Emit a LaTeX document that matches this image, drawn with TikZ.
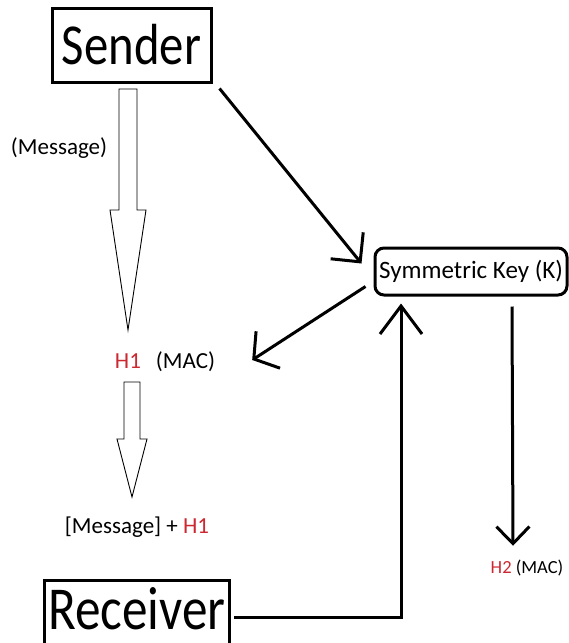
\documentclass[tikz,border=0pt]{standalone}
\usepackage{fontspec}
\setmainfont{Carlito}
\usetikzlibrary{arrows.meta}

\definecolor{hred}{RGB}{204,40,50}
\newcommand{\narrowtext}[1]{\scalebox{0.84}[1]{#1}}

\tikzset{
	party/.style = {draw, line width = 3pt, inner sep = 0pt},
	partyline/.style = {line width = 3pt},
	keybox/.style = {draw, line width = 3pt, rounded corners = 9pt, inner sep = 0pt,
		minimum width = 192pt, minimum height = 47pt, font = \fontsize{25}{25}\selectfont},
	lbl/.style = {inner sep = 0pt, font = \fontsize{23}{23}\selectfont},
	conn/.style = {line width = 3pt},
	hollow/.style = {draw, line width = 0.9pt, fill = white}
}

\begin{document}
\begin{tikzpicture}[x = 1pt, y = -1pt]
	 \useasboundingbox (0, 0) rectangle (569, 643);
	 \clip (0, 0) rectangle (569, 643);
	 
	 % the two parties
	 \node[party, minimum width = 159pt, minimum height = 74pt, font = \fontsize{58}{58}\selectfont] (sender) at (131.5, 45) {\narrowtext{Sender}};
	 \node[inner sep = 0pt, font = \fontsize{61}{61}\selectfont] (receiver) at (137, 609) {\narrowtext{Receiver}};
	 \coordinate (rleft) at ([xshift = -3.5pt]receiver.west);
	 \coordinate (rright) at ([xshift = 3.5pt]receiver.east);
	 \draw[partyline] (rleft |- 0, 650) |- ([yshift = 7pt]receiver.north) -| (rright |- 0, 650);
	 
	 % the shared key
	 \node[keybox] (key) at (471, 271.5) {Symmetric Key (K)};
	 
	 % labels
	 \node[lbl] (msg) at (59, 148) {(Message)};
	 \node[lbl] (h1) at (165, 362) {\textcolor{hred}{H1}\hspace{15pt}(MAC)};
	 \node[lbl] (msgh1) at (137, 527) {[Message] + \textcolor{hred}{H1}};
	 \node[lbl, font = \fontsize{18.5}{18.5}\selectfont] (h2) at (527, 568) {\textcolor{hred}{H2} (MAC)};
	 
	 % hollow block arrows
	 \draw[hollow] (119, 89) -- (137, 89) -- (137, 210) -- (146, 210) -- (128, 330) -- (110, 210) -- (119, 210) -- cycle;
	 \draw[hollow] (124, 382) -- (140, 382) -- (140, 439) -- (147, 439) -- (132, 497) -- (117, 439) -- (124, 439) -- cycle;
	 
	 % key connectors
	 \draw[conn, -{Straight Barb[length = 21pt, width = 42pt]}] ([xshift = 7pt, yshift = -5pt]sender.south east) -- ([xshift = -12pt, yshift = 8pt]key.west);
	 \draw[conn, -{Straight Barb[length = 17pt, width = 44pt]}] ([xshift = -8pt, yshift = 10pt]key.south west) -- ([xshift = 37pt, yshift = 2pt]h1.east);
	 \draw[conn, -{Straight Barb[length = 17pt, width = 33pt]}] ([xshift = 41pt, yshift = -10pt]key.south) -- ([xshift = -14pt, yshift = 14pt]h2.north);
	 \draw[conn, -{Straight Barb[length = 28pt, width = 42pt]}] ([xshift = 8.5pt, yshift = -8pt]receiver.east) -| ([xshift = -70pt, yshift = -7pt]key.south);
\end{tikzpicture}
\end{document}
